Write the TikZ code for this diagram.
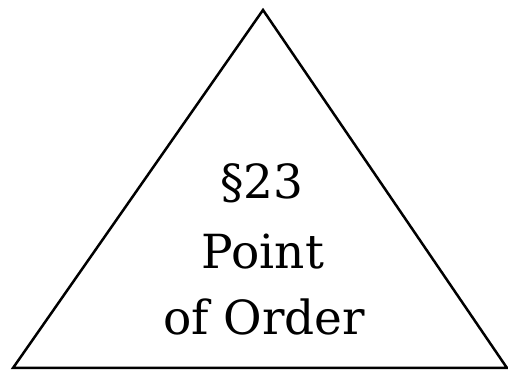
\documentclass[tikz,border=0pt]{standalone}
\usepackage{fontspec}
\setmainfont{DejaVu Serif}
\begin{document}
\begin{tikzpicture}[x=1pt,y=1pt,
  lbl/.style={anchor=base,inner sep=0pt,font=\fontsize{47}{56}\selectfont}]
\useasboundingbox (0,0) rectangle (508,371);
\coordinate (top) at (263,361);
\coordinate (bl) at (13,3);
\coordinate (br) at (507,3);
\draw[line width=2.5pt,line join=miter] (top) -- (br) -- (bl) -- cycle;
\node[lbl] (l1) at (262,172) {§23};
\node[lbl] (l2) at (263,102) {Point};
\node[lbl] (l3) at (264,36) {of Order};
\end{tikzpicture}
\end{document}
